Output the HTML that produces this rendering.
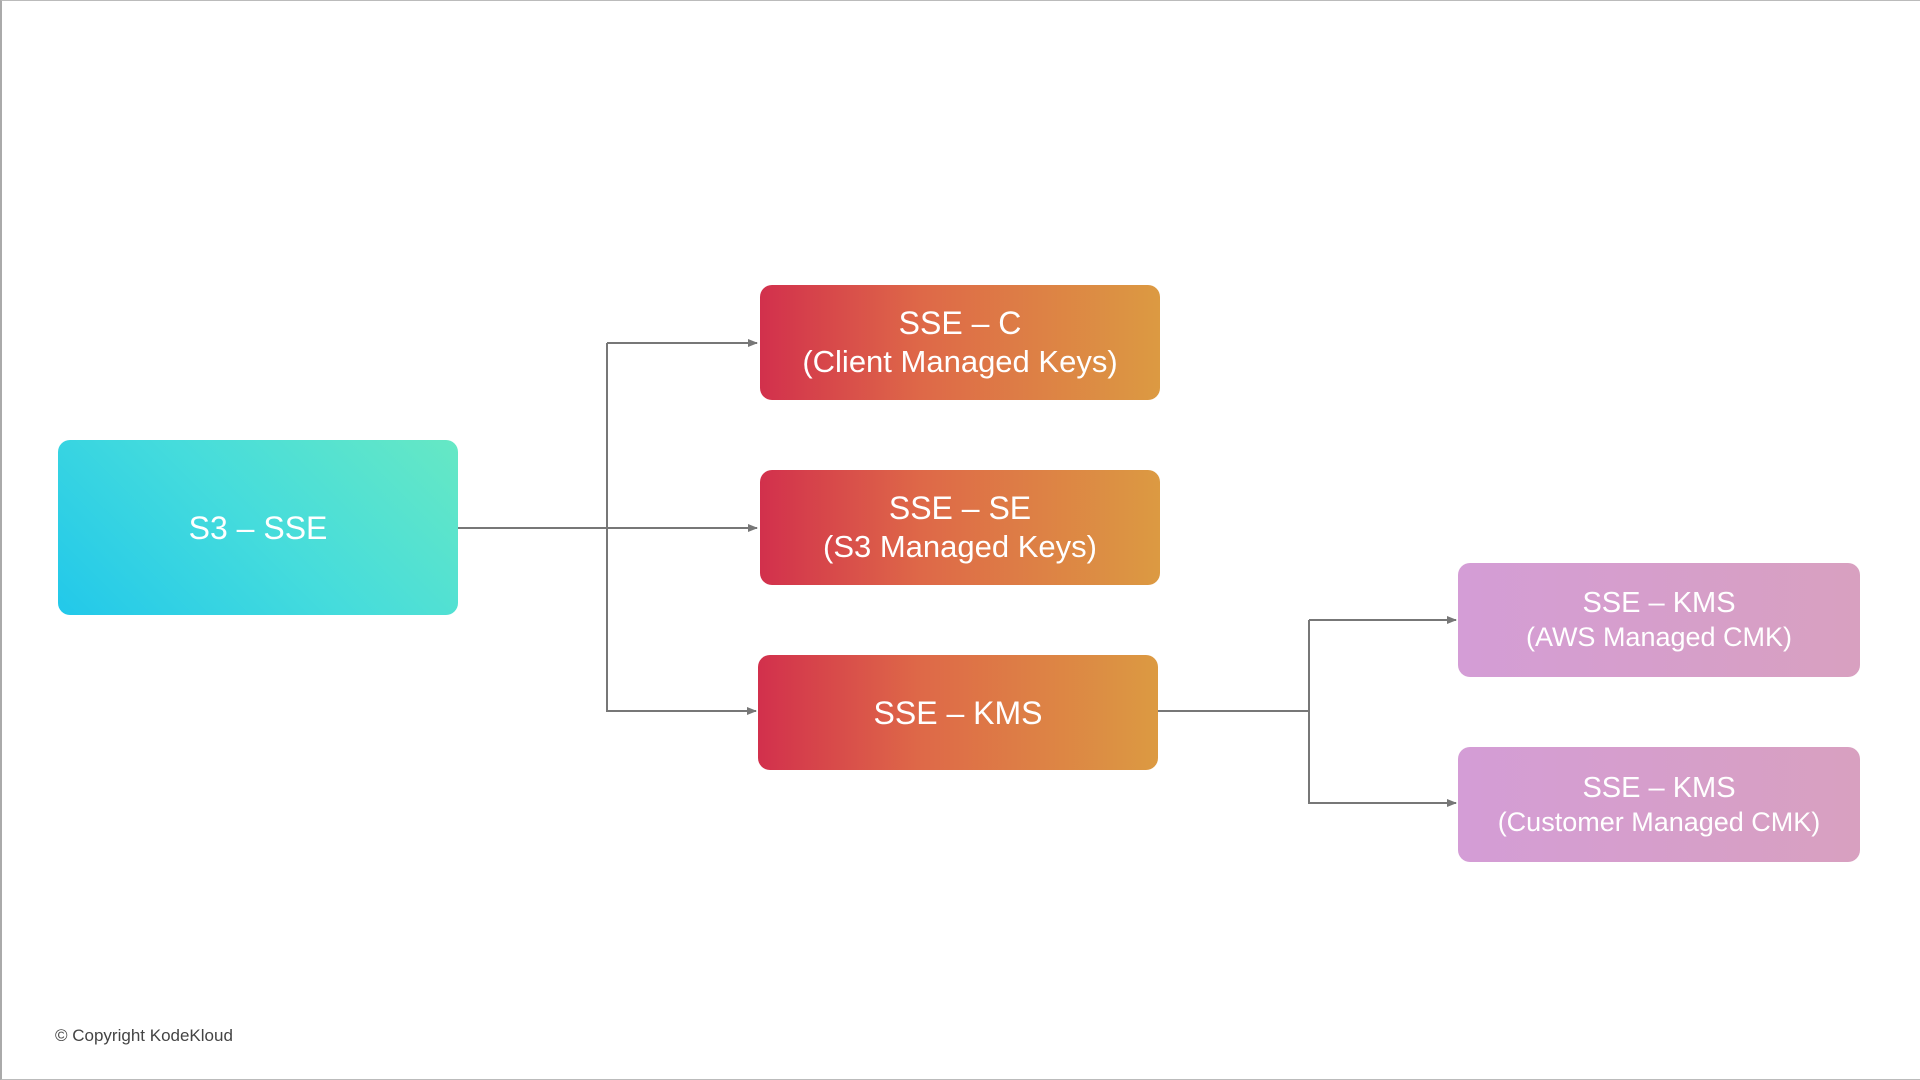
<!DOCTYPE html>
<html><head><meta charset="utf-8"><style>
body{margin:0;width:1920px;height:1080px;background:#fff;position:relative;overflow:hidden;font-family:"Liberation Sans","DejaVu Sans",sans-serif}
.b{position:absolute;border-radius:12px;color:#fff;text-align:center;display:flex;flex-direction:column;justify-content:center;align-items:center;line-height:1.25}
.r{background:linear-gradient(90deg,#d2304c 0%,#de6848 40%,#dc9a42 100%)}
.p{background:linear-gradient(90deg,#d49dd6 0%,#d8a0c0 100%)}
.t{font-size:32px}.s{font-size:31px}
</style></head><body>
<div style="position:absolute;left:0;top:0;width:1918px;height:1078px;border:1px solid #bbb;border-left:2px solid #aaa"></div>
<svg width="1920" height="1080" style="position:absolute;left:0;top:0">
<defs><marker id="a" markerWidth="10" markerHeight="10" refX="9" refY="5" orient="auto" markerUnits="userSpaceOnUse"><path d="M0,1 L10,5 L0,9z" fill="#777"/></marker></defs>
<g stroke="#777" stroke-width="2" fill="none">
<line x1="458" y1="528" x2="757" y2="528" marker-end="url(#a)"/>
<line x1="607" y1="343" x2="607" y2="712"/>
<line x1="607" y1="343" x2="757" y2="343" marker-end="url(#a)"/>
<line x1="607" y1="711" x2="756" y2="711" marker-end="url(#a)"/>
<line x1="1158" y1="711" x2="1309" y2="711"/>
<line x1="1309" y1="620" x2="1309" y2="804"/>
<line x1="1309" y1="620" x2="1456" y2="620" marker-end="url(#a)"/>
<line x1="1309" y1="803" x2="1456" y2="803" marker-end="url(#a)"/>
</g></svg>
<div class="b t" style="left:58px;top:440px;width:400px;height:175px;background:linear-gradient(45deg,#22c8ea 0%,#45dcdc 50%,#66e8c4 100%)">S3 – SSE</div>
<div class="b r" style="left:760px;top:285px;width:400px;height:115px"><div class="t">SSE – C</div><div class="s">(Client Managed Keys)</div></div>
<div class="b r" style="left:760px;top:470px;width:400px;height:115px"><div class="t">SSE – SE</div><div class="s">(S3 Managed Keys)</div></div>
<div class="b r t" style="left:758px;top:655px;width:400px;height:115px">SSE – KMS</div>
<div class="b p" style="left:1458px;top:563px;width:402px;height:114px"><div class="t" style="font-size:29px">SSE – KMS</div><div class="s" style="font-size:27px">(AWS Managed CMK)</div></div>
<div class="b p" style="left:1458px;top:747px;width:402px;height:115px"><div class="t" style="font-size:29px">SSE – KMS</div><div class="s" style="font-size:27px">(Customer Managed CMK)</div></div>
<div style="position:absolute;left:55px;top:1026px;font-size:17px;color:#444">© Copyright KodeKloud</div>
</body></html>
